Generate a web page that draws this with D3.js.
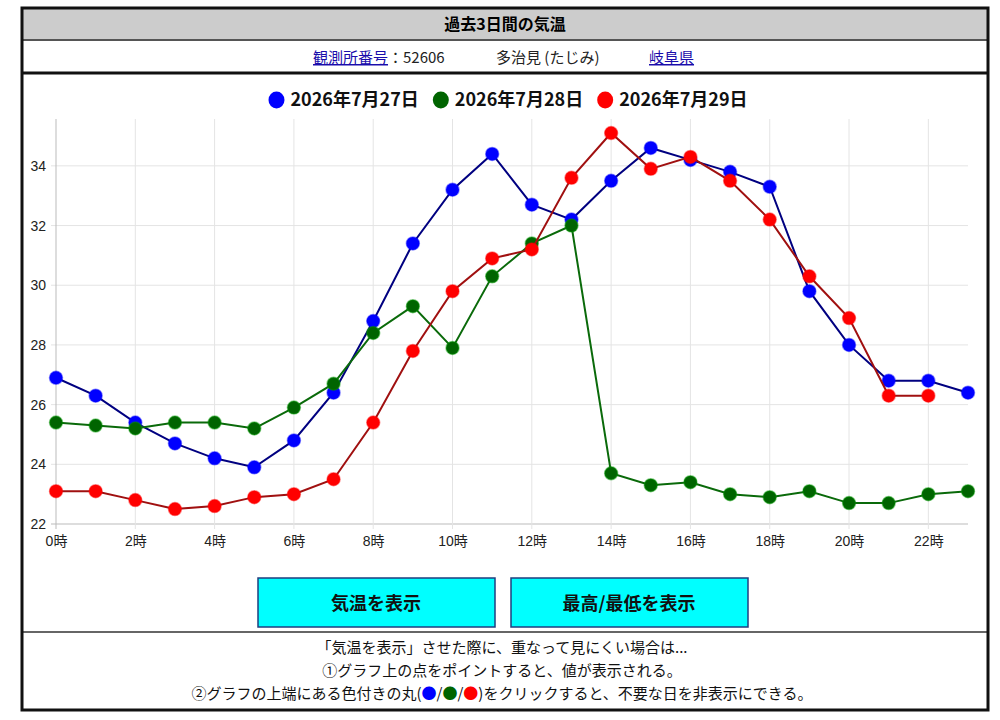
<!DOCTYPE html>
<html>
<head>
<meta charset="utf-8">
<script src="https://cdn.jsdelivr.net/npm/d3@7"></script>
<style>
  body { margin: 0; background: #fff; }
  svg text { font-family: "Liberation Sans", "Noto Sans CJK JP", sans-serif; }
  .jp { font-family: "Noto Sans CJK JP", sans-serif; }
</style>
</head>
<body>
<svg id="page" width="1000" height="720"></svg>
<script>
// 過去3日間の気温 (多治見)
const hours = d3.range(0, 24);
const hourLabels = hours.map(h => h + '時');
const yTicks = [22, 24, 26, 28, 30, 32, 34];

const days = ['2026年7月27日', '2026年7月28日', '2026年7月29日'];
const temp0727 = [26.9, 26.3, 25.4, 24.7, 24.2, 23.9, 24.8, 26.4, 28.8, 31.4, 33.2, 34.4,
                  32.7, 32.2, 33.5, 34.6, 34.2, 33.8, 33.3, 29.8, 28.0, 26.8, 26.8, 26.4];
const temp0728 = [25.4, 25.3, 25.2, 25.4, 25.4, 25.2, 25.9, 26.7, 28.4, 29.3, 27.9, 30.3,
                  31.4, 32.0, 23.7, 23.3, 23.4, 23.0, 22.9, 23.1, 22.7, 22.7, 23.0, 23.1];
const temp0729 = [23.1, 23.1, 22.8, 22.5, 22.6, 22.9, 23.0, 23.5, 25.4, 27.8, 29.8, 30.9,
                  31.2, 33.6, 35.1, 33.9, 34.3, 33.5, 32.2, 30.3, 28.9, 26.3, 26.3, null];

const lineColors = ['#000080', '#0a6a0a', '#a01010'];
const pointColors = ['#0000ff', '#006400', '#ff0000'];
const seriesList = [temp0727, temp0728, temp0729];

const svg = d3.select('#page');

// 外枠とヘッダー
const box = { x: 22, y: 8, w: 966, h: 702 };
svg.append('rect').attr('x', box.x).attr('y', 8).attr('width', box.w).attr('height', 32)
  .attr('fill', '#cccccc');
svg.append('text').attr('class', 'jp').attr('x', 505).attr('y', 30)
  .attr('text-anchor', 'middle').attr('font-size', 16).attr('font-weight', 'bold')
  .text('過去3日間の気温');
svg.append('line').attr('x1', box.x).attr('x2', box.x + box.w).attr('y1', 40).attr('y2', 40)
  .attr('stroke', '#555').attr('stroke-width', 2);

// 観測所の行
const info = svg.append('text').attr('class', 'jp').attr('y', 63).attr('font-size', 15);
info.append('tspan').attr('x', 313).attr('fill', '#1a0dab').attr('text-decoration', 'underline').text('観測所番号');
info.append('tspan').attr('fill', '#222').text('：52606');
info.append('tspan').attr('x', 496).attr('fill', '#222').text('多治見 (たじみ)');
info.append('tspan').attr('x', 649).attr('fill', '#1a0dab').attr('text-decoration', 'underline').text('岐阜県');
svg.append('line').attr('x1', box.x).attr('x2', box.x + box.w).attr('y1', 73).attr('y2', 73)
  .attr('stroke', '#111').attr('stroke-width', 3);

// グラフ
const margin = { left: 56, right: 968, top: 119, bottom: 524 };
const x = d3.scaleLinear().domain([0, 23]).range([margin.left, margin.right]);
const y = d3.scaleLinear().domain([22, 35.57]).range([margin.bottom, margin.top]);

const grid = svg.append('g');
grid.selectAll('.hg').data(yTicks).join('line')
  .attr('x1', margin.left - 5).attr('x2', margin.right)
  .attr('y1', d => y(d)).attr('y2', d => y(d))
  .attr('stroke', d => d === 22 ? '#bbb' : '#e4e4e4').attr('stroke-width', 1);
grid.selectAll('.vg').data(hours.filter(h => h % 2 === 0)).join('line')
  .attr('x1', d => x(d)).attr('x2', d => x(d))
  .attr('y1', margin.top).attr('y2', margin.bottom + 5)
  .attr('stroke', d => d === 0 ? '#bbb' : '#e4e4e4').attr('stroke-width', 1);

const yAxis = d3.axisLeft(y).tickValues(yTicks).tickSize(0).tickPadding(10);
svg.append('g').attr('transform', `translate(${margin.left},0)`).call(yAxis)
  .call(g => g.select('.domain').remove())
  .call(g => g.selectAll('text').attr('font-size', 14).attr('fill', '#222')
    .attr('font-family', '"Liberation Sans", "Noto Sans CJK JP", sans-serif'));

const xAxis = d3.axisBottom(x).tickValues(hours.filter(h => h % 2 === 0))
  .tickFormat(d => hourLabels[d]).tickSize(0).tickPadding(12);
svg.append('g').attr('transform', `translate(0,${margin.bottom})`).call(xAxis)
  .call(g => g.select('.domain').remove())
  .call(g => g.selectAll('text').attr('font-size', 14).attr('fill', '#222')
    .attr('font-family', '"Liberation Sans", "Noto Sans CJK JP", sans-serif'));

const line = d3.line().defined(d => d != null).x((d, i) => x(i)).y(d => y(d));

seriesList.forEach((vals, k) => {
  const g = svg.append('g');
  g.append('path').datum(vals).attr('d', line)
    .attr('fill', 'none').attr('stroke', lineColors[k]).attr('stroke-width', 2);
  g.selectAll('circle').data(vals.map((v, i) => ({ v, i })).filter(d => d.v != null)).join('circle')
    .attr('cx', d => x(d.i)).attr('cy', d => y(d.v)).attr('r', 6.5)
    .attr('fill', pointColors[k])
    .attr('stroke', d3.color(pointColors[k]).brighter(1.2).copy({ opacity: 0.45 }))
    .attr('stroke-width', 1.5);
});

// 凡例
const legend = svg.append('g');
const legendItems = days.map((d, k) => {
  const it = legend.append('g');
  it.append('ellipse').attr('cx', 0).attr('cy', -6).attr('rx', 8).attr('ry', 8.5)
    .attr('fill', pointColors[k]);
  it.append('text').attr('class', 'jp').attr('x', 14).attr('y', 0)
    .attr('font-size', 18).attr('font-weight', 'bold').attr('fill', '#111').text(d);
  return it;
});
let widths = legendItems.map(it => 14 + it.select('text').node().getComputedTextLength());
const gap = 14;
const total = d3.sum(widths) + gap * (widths.length - 1) + 8;
let cx = 500 - total / 2 + 8;
legendItems.forEach((it, k) => {
  it.attr('transform', `translate(${cx},106)`);
  cx += widths[k] + gap + 8;
});

// ボタン
const buttons = ['気温を表示', '最高/最低を表示'];
const btnX = [258, 511];
buttons.forEach((b, k) => {
  svg.append('rect').attr('x', btnX[k]).attr('y', 578).attr('width', 237).attr('height', 49)
    .attr('fill', '#00ffff').attr('stroke', '#1f3f7f').attr('stroke-width', 1.5);
  svg.append('text').attr('class', 'jp').attr('x', btnX[k] + 118).attr('y', 610)
    .attr('text-anchor', 'middle').attr('font-size', 18).attr('font-weight', 'bold')
    .attr('fill', '#111').text(b);
});

// 注記
svg.append('line').attr('x1', box.x).attr('x2', box.x + box.w).attr('y1', 632).attr('y2', 632)
  .attr('stroke', '#333').attr('stroke-width', 1.5);
const notes = [
  '「気温を表示」させた際に、重なって見にくい場合は...',
  '①グラフ上の点をポイントすると、値が表示される。'
];
notes.forEach((n, i) => {
  svg.append('text').attr('class', 'jp').attr('x', 502).attr('y', 653 + i * 23)
    .attr('text-anchor', 'middle').attr('font-size', 15).attr('fill', '#111').text(n);
});
const n3 = svg.append('text').attr('class', 'jp').attr('x', 502).attr('y', 699)
  .attr('text-anchor', 'middle').attr('font-size', 15).attr('fill', '#111');
n3.append('tspan').text('②グラフの上端にある色付きの丸(');
pointColors.forEach((c, k) => {
  n3.append('tspan').attr('fill', c).text('●');
  if (k < 2) n3.append('tspan').text('/');
});
n3.append('tspan').text(')をクリックすると、不要な日を非表示にできる。');

svg.append('rect').attr('x', box.x).attr('y', box.y).attr('width', box.w).attr('height', box.h)
  .attr('fill', 'none').attr('stroke', '#111').attr('stroke-width', 3);
</script>
</body>
</html>
